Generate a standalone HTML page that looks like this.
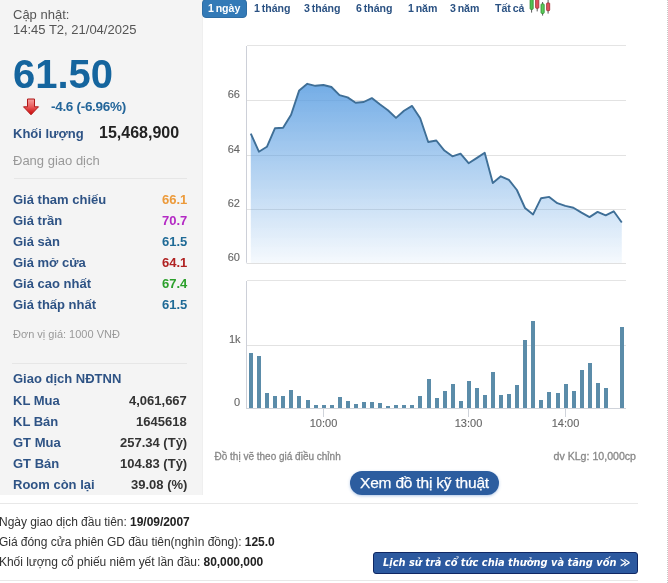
<!DOCTYPE html>
<html><head><meta charset="utf-8">
<style>
*{margin:0;padding:0;box-sizing:border-box}
html,body{width:668px;height:583px;overflow:hidden;background:#fff}
body{position:relative;font-family:"Liberation Sans",Arial,sans-serif;color:#333}
.a{position:absolute;white-space:nowrap;will-change:transform}
#lp{position:absolute;left:0;top:0;width:203px;height:495px;background:#f4f4f4;border-right:1px solid #efefef}
.upd{left:13px;font-size:13px;color:#555;line-height:1}
.price{left:12.5px;top:53.5px;font-size:40px;font-weight:bold;color:#15659e;line-height:1;letter-spacing:0}
.chg{left:51px;top:99.5px;font-size:13.5px;letter-spacing:-0.3px;font-weight:bold;color:#24669a;line-height:1}
.lbl{left:13px;font-size:13px;font-weight:bold;color:#2e5385;line-height:1}
.val{right:481px;font-size:13px;font-weight:bold;line-height:1;text-align:right}
.gray{color:#999}
.sep{position:absolute;height:1px;background:#e6e6e6}
.tab{position:absolute;will-change:transform;top:2.5px;font-size:10.6px;word-spacing:-1.2px;font-weight:bold;color:#2b5283;line-height:1}
.bl{left:-1px;font-size:12px;letter-spacing:-0.04px;color:#333;line-height:1}
.bl b{color:#222}
</style></head><body>
<div id="lp"></div>
<div class="a upd" style="top:8px">Cập nhật:</div>
<div class="a upd" style="top:23px">14:45 T2, 21/04/2025</div>
<div class="a price">61.50</div>
<svg class="a" style="left:22px;top:96.6px" width="18" height="20" viewBox="0 0 18 20">
<defs><linearGradient id="ar" x1="0" y1="0" x2="0" y2="1"><stop offset="0" stop-color="#f6a0a0"/><stop offset="0.5" stop-color="#e85a5a"/><stop offset="1" stop-color="#c80000"/></linearGradient></defs>
<path d="M5.5,2 L12.5,2 L12.5,9.8 L16.5,9.8 L9,17.8 L1.5,9.8 L5.5,9.8 Z" fill="url(#ar)" stroke="#b01818" stroke-width="1"/>
</svg>
<div class="a chg">-4.6 (-6.96%)</div>
<div class="a lbl" style="top:127px">Khối lượng</div>
<div class="a" style="left:99px;top:124.5px;font-size:16px;font-weight:bold;color:#222;line-height:1">15,468,900</div>
<div class="a gray" style="left:13px;top:154px;font-size:13px;line-height:1">Đang giao dịch</div>
<div class="sep" style="left:14px;top:178px;width:173px"></div>
<div class="a lbl" style="top:193px">Giá tham chiếu</div><div class="a val" style="top:193px;color:#ec9a3a">66.1</div>
<div class="a lbl" style="top:214px">Giá trần</div><div class="a val" style="top:214px;color:#b42ac4">70.7</div>
<div class="a lbl" style="top:235px">Giá sàn</div><div class="a val" style="top:235px;color:#1f6a96">61.5</div>
<div class="a lbl" style="top:256px">Giá mở cửa</div><div class="a val" style="top:256px;color:#b02222">64.1</div>
<div class="a lbl" style="top:277px">Giá cao nhất</div><div class="a val" style="top:277px;color:#2ca02c">67.4</div>
<div class="a lbl" style="top:298px">Giá thấp nhất</div><div class="a val" style="top:298px;color:#1f6a96">61.5</div>
<div class="a gray" style="left:13px;top:329px;font-size:11px;line-height:1">Đơn vị giá: 1000 VNĐ</div>
<div class="sep" style="left:12px;top:363px;width:175px"></div>
<div class="a lbl" style="top:372px">Giao dịch NĐTNN</div>
<div class="a lbl" style="top:394px">KL Mua</div><div class="a val" style="top:394px;color:#333">4,061,667</div>
<div class="a lbl" style="top:415px">KL Bán</div><div class="a val" style="top:415px;color:#333">1645618</div>
<div class="a lbl" style="top:436px">GT Mua</div><div class="a val" style="top:436px;color:#333">257.34 (Tỷ)</div>
<div class="a lbl" style="top:457px">GT Bán</div><div class="a val" style="top:457px;color:#333">104.83 (Tỷ)</div>
<div class="a lbl" style="top:478px">Room còn lại</div><div class="a val" style="top:478px;color:#333">39.08 (%)</div>

<!-- tabs -->
<div class="a" style="left:202px;top:-1px;width:45px;height:19px;background:#337ab7;border:1px solid #2e6da4;border-radius:4px"></div>
<div class="tab" style="left:208px;color:#fff">1 ngày</div>
<div class="tab" style="left:254px">1 tháng</div>
<div class="tab" style="left:304px">3 tháng</div>
<div class="tab" style="left:356px">6 tháng</div>
<div class="tab" style="left:407.5px">1 năm</div>
<div class="tab" style="left:450px">3 năm</div>
<div class="tab" style="left:494.5px">Tất cả</div>
<svg class="a" style="left:528px;top:0" width="24" height="17" viewBox="0 0 24 17">
<g stroke="#5a5a5a" stroke-width="1"><line x1="3.6" y1="0" x2="3.6" y2="12.6"/><line x1="9.2" y1="0" x2="9.2" y2="11.4"/><line x1="14.6" y1="2" x2="14.6" y2="15.6"/><line x1="20.1" y1="0" x2="20.1" y2="13.6"/></g>
<rect x="2.1" y="-1" width="3.1" height="10.4" rx="0.8" fill="#52c152" stroke="#2f8a2f" stroke-width="0.8"/>
<rect x="7.6" y="-1" width="3.2" height="9.3" rx="0.8" fill="#e0505c" stroke="#9a2a30" stroke-width="0.8"/>
<rect x="13" y="3.9" width="3.2" height="9.5" rx="0.8" fill="#5ccc5c" stroke="#2f8a2f" stroke-width="0.8"/>
<rect x="18.6" y="2.9" width="3.1" height="7.8" rx="0.8" fill="#e0505c" stroke="#9a2a30" stroke-width="0.8"/>
</svg>

<!-- charts -->
<svg class="a" style="left:0;top:0" width="668" height="583" viewBox="0 0 668 583">
<defs><linearGradient id="fg" x1="0" y1="45" x2="0" y2="276" gradientUnits="userSpaceOnUse"><stop offset="0" stop-color="#579ce1" stop-opacity="1"/><stop offset="1" stop-color="#579ce1" stop-opacity="0"/></linearGradient></defs>
<g fill="none" stroke="#e2e2e2" stroke-width="1">
<line x1="247" y1="100.5" x2="626" y2="100.5"/>
<line x1="247" y1="155.5" x2="626" y2="155.5"/>
<line x1="247" y1="209.5" x2="626" y2="209.5"/>
<line x1="247" y1="345.5" x2="626" y2="345.5"/>
</g>
<path d="M250.8,263 L250.8,133.6 L258.9,151.7 L266.9,146.8 L275.0,128.2 L283.1,127.8 L291.1,114.8 L299.2,90.4 L307.3,83.8 L315.3,85.8 L323.4,85.0 L331.4,87.0 L339.5,95.1 L347.6,97.4 L355.6,102.8 L363.7,102.0 L371.8,98.1 L379.8,104.3 L387.9,110.2 L396.0,117.9 L404.0,110.8 L412.1,105.9 L420.2,118.2 L428.2,142.0 L436.3,140.5 L444.4,150.6 L452.4,156.3 L460.5,153.6 L468.6,163.2 L476.6,158.1 L484.7,152.7 L492.8,183.0 L500.8,176.3 L508.9,179.9 L516.9,190.0 L525.0,208.0 L533.1,214.4 L541.1,198.2 L549.2,196.9 L557.3,203.2 L565.3,205.9 L573.4,207.7 L581.5,212.6 L589.5,217.1 L597.6,211.9 L605.7,215.3 L613.7,211.3 L621.8,222.5 L621.8,263 Z" fill="url(#fg)"/>
<polyline points="250.8,133.6 258.9,151.7 266.9,146.8 275.0,128.2 283.1,127.8 291.1,114.8 299.2,90.4 307.3,83.8 315.3,85.8 323.4,85.0 331.4,87.0 339.5,95.1 347.6,97.4 355.6,102.8 363.7,102.0 371.8,98.1 379.8,104.3 387.9,110.2 396.0,117.9 404.0,110.8 412.1,105.9 420.2,118.2 428.2,142.0 436.3,140.5 444.4,150.6 452.4,156.3 460.5,153.6 468.6,163.2 476.6,158.1 484.7,152.7 492.8,183.0 500.8,176.3 508.9,179.9 516.9,190.0 525.0,208.0 533.1,214.4 541.1,198.2 549.2,196.9 557.3,203.2 565.3,205.9 573.4,207.7 581.5,212.6 589.5,217.1 597.6,211.9 605.7,215.3 613.7,211.3 621.8,222.5" fill="none" stroke="#3f6f97" stroke-width="1.9" stroke-linejoin="round"/>
<path d="M247,45.5 L626,45.5" stroke="#e4e4e4" stroke-width="1"/><path d="M247.5,263.5 L626,263.5" stroke="#e0e0e0" stroke-width="1"/><path d="M246.5,46 L246.5,262.5 Q246.5,263.5 247.5,263.5" fill="none" stroke="#cdd0d8" stroke-width="1"/>
<path d="M247,280.5 L626,280.5" stroke="#e4e4e4" stroke-width="1"/><path d="M246.5,281 L246.5,408" fill="none" stroke="#cdd0d8" stroke-width="1"/>
<g fill="#5b8ca9" shape-rendering="crispEdges"><rect x="249" y="353" width="4" height="55"/><rect x="257" y="356" width="4" height="52"/><rect x="265" y="393" width="4" height="15"/><rect x="273" y="396" width="4" height="12"/><rect x="281" y="396" width="4" height="12"/><rect x="289" y="390" width="4" height="18"/><rect x="297" y="396" width="4" height="12"/><rect x="306" y="400" width="4" height="8"/><rect x="314" y="405" width="4" height="3"/><rect x="322" y="405" width="4" height="3"/><rect x="330" y="405" width="4" height="3"/><rect x="338" y="397" width="4" height="11"/><rect x="346" y="401" width="4" height="7"/><rect x="354" y="404" width="4" height="4"/><rect x="362" y="402" width="4" height="6"/><rect x="370" y="402" width="4" height="6"/><rect x="378" y="403" width="4" height="5"/><rect x="386" y="406" width="4" height="2"/><rect x="394" y="405" width="4" height="3"/><rect x="402" y="405" width="4" height="3"/><rect x="410" y="405" width="4" height="3"/><rect x="418" y="396" width="4" height="12"/><rect x="427" y="379" width="4" height="29"/><rect x="435" y="398" width="4" height="10"/><rect x="443" y="391" width="4" height="17"/><rect x="451" y="384" width="4" height="24"/><rect x="459" y="401" width="4" height="7"/><rect x="467" y="381" width="4" height="27"/><rect x="475" y="388" width="4" height="20"/><rect x="483" y="395" width="4" height="13"/><rect x="491" y="372" width="4" height="36"/><rect x="499" y="395" width="4" height="13"/><rect x="507" y="394" width="4" height="14"/><rect x="515" y="385" width="4" height="23"/><rect x="523" y="340" width="4" height="68"/><rect x="531" y="321" width="4" height="87"/><rect x="539" y="400" width="4" height="8"/><rect x="547" y="392" width="4" height="16"/><rect x="556" y="393" width="4" height="15"/><rect x="564" y="384" width="4" height="24"/><rect x="572" y="391" width="4" height="17"/><rect x="580" y="370" width="4" height="38"/><rect x="588" y="363" width="4" height="45"/><rect x="596" y="383" width="4" height="25"/><rect x="604" y="388" width="4" height="20"/><rect x="620" y="327" width="4" height="81"/></g>
<line x1="246" y1="408.5" x2="626" y2="408.5" stroke="#cfd3da" stroke-width="1"/>
<g stroke="#cfd3da" stroke-width="1"><line x1="323.5" y1="409" x2="323.5" y2="417"/><line x1="468.5" y1="409" x2="468.5" y2="417"/><line x1="565.5" y1="409" x2="565.5" y2="417"/></g>
<g font-family="Liberation Sans,Arial,sans-serif" font-size="11" fill="#666" stroke="#666" stroke-width="0.12" text-anchor="end">
<text x="240" y="98">66</text><text x="240" y="153">64</text><text x="240" y="207">62</text><text x="240" y="261">60</text>
<text x="240.5" y="343">1k</text><text x="240" y="405.6">0</text>
</g>
<g font-family="Liberation Sans,Arial,sans-serif" font-size="11" fill="#666" stroke="#666" stroke-width="0.12" text-anchor="middle">
<text x="323.5" y="427">10:00</text><text x="468.5" y="427">13:00</text><text x="565.5" y="427">14:00</text>
</g>
<g font-family="Liberation Sans,Arial,sans-serif" font-size="10" fill="#888" stroke="#888" stroke-width="0.3">
<text x="214.5" y="459.5">Đồ thị vẽ theo giá điều chỉnh</text>
<text x="636" y="460" text-anchor="end" font-size="10.6">dv KLg: 10,000cp</text>
</g>
</svg>

<div class="a" style="left:350px;top:471px;width:149px;height:24px;border-radius:12px;background:#2c5d9f;box-shadow:0 1px 3px rgba(80,130,200,0.45)"></div>
<div class="a" style="left:350px;top:475.4px;width:149px;text-align:center;font-size:15.5px;letter-spacing:-0.2px;-webkit-text-stroke:0.25px #fff;color:#fff;line-height:1">Xem đồ thị kỹ thuật</div>

<div class="sep" style="left:0;top:503px;width:638px;background:#e8e8e8"></div>
<div class="a bl" style="top:516px">Ngày giao dịch đầu tiên: <b>19/09/2007</b></div>
<div class="a bl" style="top:536px">Giá đóng cửa phiên GD đầu tiên(nghìn đồng): <b>125.0</b></div>
<div class="a bl" style="top:556px">Khối lượng cổ phiếu niêm yết lần đầu: <b>80,000,000</b></div>
<div class="a" style="left:373px;top:552px;width:265px;height:22px;background:#2c599f;border:1px solid #0f2763;border-radius:3px"></div>
<div class="a" style="left:383px;top:558px;font-family:'DejaVu Sans Condensed','DejaVu Sans',sans-serif;font-size:10.95px;font-weight:bold;font-style:italic;color:#fff;line-height:1">Lịch sử trả cổ tức chia thưởng và tăng vốn ≫</div>
<div class="sep" style="left:0;top:580px;width:638px;background:#e8e8e8"></div>
<div class="a" style="left:667px;top:0;width:1px;height:583px;background:repeating-linear-gradient(to bottom,#c8c8c8 0,#c8c8c8 1px,transparent 1px,transparent 2px)"></div>
</body></html>
